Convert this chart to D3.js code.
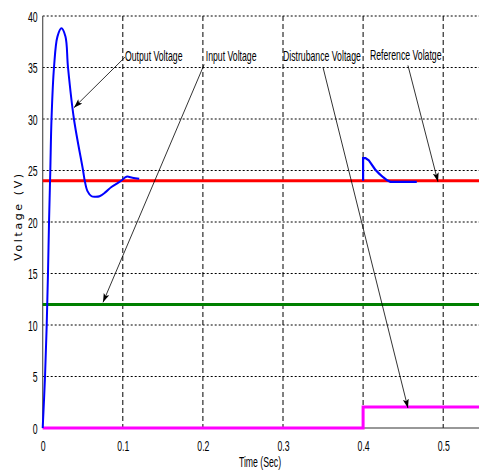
<!DOCTYPE html>
<html><head><meta charset="utf-8">
<script src="https://cdn.jsdelivr.net/npm/d3@7"></script>
<style>body{margin:0;background:#fff;overflow:hidden}</style>
</head><body><svg id="c" width="479" height="473"></svg>
<script>
// ---- data ----
const tOutput1 = [0, 0.0029, 0.005, 0.0066, 0.0079, 0.0095, 0.011, 0.0141, 0.0184, 0.0234, 0.0284, 0.0316, 0.039, 0.0504, 0.0525, 0.0559, 0.061, 0.066, 0.071, 0.0785, 0.0858, 0.098, 0.1046, 0.112, 0.1205];
const vOutput1 = [0, 5, 10, 15, 20, 25, 30, 35, 38, 38.8, 38, 35, 30, 25, 24, 23, 22.5, 22.45, 22.5, 22.9, 23.4, 24.0, 24.4, 24.3, 24.2];
const tOutput2 = [0.4, 0.4, 0.403, 0.407, 0.415, 0.42, 0.425, 0.43, 0.434, 0.467];
const vOutput2 = [24, 26.2, 26.2, 26.0, 25.1, 24.7, 24.35, 24.05, 23.9, 23.9];
const referenceVoltage = 24;
const inputVoltage = 12;
const tDisturbance = [0, 0.4, 0.4, 0.55];
const vDisturbance = [0, 0, 2.05, 2.05];
const xTicks = [0, 0.1, 0.2, 0.3, 0.4, 0.5];
const xTickLabels = ["0", "0.1", "0.2", "0.3", "0.4", "0.5"];
const yTicks = [0, 5, 10, 15, 20, 25, 30, 35, 40];
const annLabels = ["Output Voltage", "Input Voltage", "Distrubance Voltage", "Reference Volatge"];
const annTextT = [0.1027, 0.2036, 0.3, 0.4086];
const annTextV = [35.6, 35.6, 35.6, 35.7];
const annFromT = [0.1027, 0.2016, 0.35, 0.456];
const annFromV = [36.0, 35.3, 35.0, 35.2];
const annToT = [0.039, 0.0753, 0.456, 0.4935];
const annToV = [31.1, 12.2, 1.94, 23.9];

// ---- chart ----
const svg = d3.select("#c");
const x = d3.scaleLinear().domain([0, 0.55]).range([42.7, 42.7 + 801 * 0.55]);
const y = d3.scaleLinear().domain([0, 40]).range([428, 16]);
const SX = 0.58;
const FONT = "'Liberation Sans', Arial, sans-serif";

// grid
svg.append("g").selectAll("line").data(yTicks.filter(d => d > 0)).join("line")
  .attr("x1", x(0)).attr("x2", 479).attr("y1", d => y(d)).attr("y2", d => y(d))
  .attr("stroke", "#000").attr("stroke-width", 1).attr("stroke-dasharray", "2,2");
svg.append("g").selectAll("line").data(xTicks.filter(d => d > 0)).join("line")
  .attr("x1", d => x(d)).attr("x2", d => x(d)).attr("y1", y(40)).attr("y2", y(0))
  .attr("stroke", "#000").attr("stroke-width", 1).attr("stroke-dasharray", "5,3");

// axes
svg.append("line").attr("x1", x(0)).attr("x2", x(0)).attr("y1", y(40)).attr("y2", y(0))
  .attr("stroke", "#555").attr("stroke-width", 1.2);
svg.append("line").attr("x1", x(0)).attr("x2", 479).attr("y1", y(0)).attr("y2", y(0))
  .attr("stroke", "#333").attr("stroke-width", 1.2);

const xAxis = svg.append("g").attr("transform", `translate(0,${y(0)})`)
  .call(d3.axisBottom(x).tickValues(xTicks).tickFormat((d, i) => xTickLabels[i]).tickSize(0).tickPadding(0));
xAxis.select(".domain").remove();
xAxis.selectAll("text").attr("font-size", 15).attr("font-family", FONT).attr("fill", "#000")
  .attr("dy", null).attr("y", 23).attr("transform", `scale(${SX},1)`);

const yAxis = svg.append("g").attr("transform", `translate(${x(0)},0)`)
  .call(d3.axisLeft(y).tickValues(yTicks).tickSize(0).tickPadding(0));
yAxis.select(".domain").remove();
yAxis.selectAll("text").attr("font-size", 15).attr("font-family", FONT).attr("fill", "#000")
  .attr("x", -5 / SX).attr("dy", "0.36em").attr("transform", `scale(${SX},1)`);

// axis titles
svg.append("text").attr("transform", `translate(260,467) scale(${SX},1)`)
  .attr("text-anchor", "middle").attr("font-size", 15).attr("font-family", FONT).text("Time (Sec)");
svg.append("text").attr("transform", "translate(22,216) rotate(-90)")
  .attr("text-anchor", "middle").attr("font-size", 11).attr("letter-spacing", 2.6)
  .attr("font-family", "'DejaVu Sans', sans-serif").text("Voltage (V)");

// series
const line = d3.line().x(d => x(d[0])).y(d => y(d[1]));
svg.append("path").datum(tDisturbance.map((t, i) => [t, vDisturbance[i]]))
  .attr("d", line).attr("fill", "none").attr("stroke", "#ff00ff").attr("stroke-width", 3);
svg.append("path").datum([[0, inputVoltage], [0.55, inputVoltage]])
  .attr("d", line).attr("fill", "none").attr("stroke", "#008000").attr("stroke-width", 3);
svg.append("path").datum([[0, referenceVoltage], [0.55, referenceVoltage]])
  .attr("d", line).attr("fill", "none").attr("stroke", "#ff0000").attr("stroke-width", 3);
svg.append("path").datum(tOutput1.map((t, i) => [t, vOutput1[i]]))
  .attr("d", d3.line().x(d => x(d[0])).y(d => y(d[1])).curve(d3.curveCatmullRom.alpha(0.5)))
  .attr("fill", "none").attr("stroke", "#0000ff").attr("stroke-width", 2);
svg.append("path").datum(tOutput2.map((t, i) => [t, vOutput2[i]]))
  .attr("d", line).attr("fill", "none").attr("stroke", "#0000ff").attr("stroke-width", 2.2);

// annotations
svg.append("defs").append("marker").attr("id", "ah").attr("markerUnits", "userSpaceOnUse")
  .attr("markerWidth", 12).attr("markerHeight", 8).attr("refX", 9).attr("refY", 3)
  .attr("orient", "auto").append("path").attr("d", "M0,0L9,3L0,6L2,3Z").attr("fill", "#000");
annLabels.forEach((lab, i) => {
  svg.append("line").attr("x1", x(annFromT[i])).attr("y1", y(annFromV[i]))
    .attr("x2", x(annToT[i])).attr("y2", y(annToV[i]))
    .attr("stroke", "#000").attr("stroke-width", 0.8).attr("marker-end", "url(#ah)");
  svg.append("text").attr("transform", `translate(${x(annTextT[i])},${y(annTextV[i])}) scale(${SX},1)`)
    .attr("font-size", 15).attr("font-family", FONT).attr("fill", "#000").text(lab);
});
</script></body></html>
